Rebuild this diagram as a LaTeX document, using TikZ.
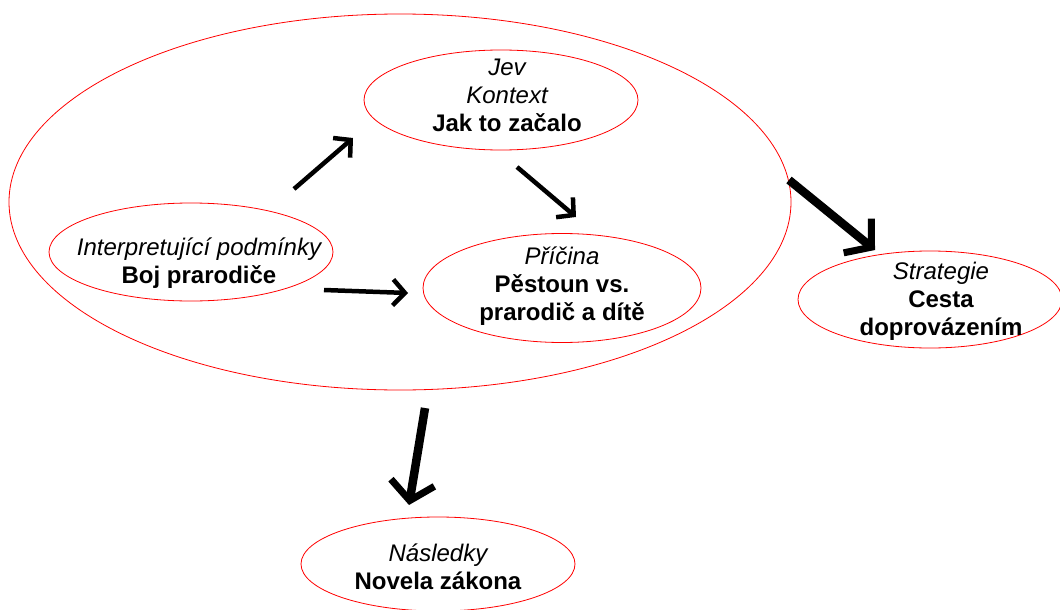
\documentclass[tikz,border=0pt]{standalone}
\usepackage{fontspec}
\setmainfont{Liberation Sans}
\usetikzlibrary{shapes.geometric,arrows.meta}
\begin{document}
\begin{tikzpicture}[x=1pt,y=-1pt,
  oval/.style={draw=red, line width=0.8pt, ellipse, inner sep=0pt},
  lbl/.style={align=center, font=\fontsize{24}{28}\selectfont, inner sep=0pt},
  thinarrow/.style={line width=4.5pt, -{Straight Barb[length=12pt,width=26pt,line width=4.5pt]}},
  thickarrow/.style={line width=8.5pt, -{Straight Barb[length=18pt,width=44pt,line width=7pt]}}]
\useasboundingbox (0,0) rectangle (1060,610);
\fill[white] (0,0) rectangle (1060,610);
% ellipses
\node[oval, minimum width=782pt, minimum height=376pt] (ctx) at (400,202) {};
\node[oval, minimum width=274pt, minimum height=100pt] (jev) at (501,100) {};
\node[oval, minimum width=284pt, minimum height=98pt] (interp) at (191,252) {};
\node[oval, minimum width=278pt, minimum height=109pt] (pric) at (562,288) {};
\node[oval, minimum width=264pt, minimum height=97pt] (strat) at (930,299.5) {};
\node[oval, minimum width=274pt, minimum height=94pt] (nasl) at (438,564) {};
% texts
\node[lbl] (jevT) at ([xshift=6pt,yshift=5pt]jev.center) {{\itshape Jev}\\{\itshape Kontext}\\{\bfseries Jak to začalo}};
\node[lbl] (interpT) at ([xshift=8pt,yshift=-11.5pt]interp.center) {{\itshape Interpretující podmínky}\\{\bfseries Boj prarodiče}};
\node[lbl] (pricT) at ([yshift=2pt]pric.center) {{\itshape Příčina}\\{\bfseries Pěstoun vs.}\\{\bfseries prarodič a dítě}};
\node[lbl] (stratT) at ([xshift=11pt,yshift=-1.5pt]strat.center) {{\itshape Strategie}\\{\bfseries Cesta}\\{\bfseries doprovázením}};
\node[lbl] (naslT) at ([yshift=-2.5pt]nasl.center) {{\itshape Následky}\\{\bfseries Novela zákona}};
% arrow ends
\coordinate (a1s) at (294,189); \coordinate (a1e) at (353,138);
\coordinate (a2s) at (517,167); \coordinate (a2e) at (576,217);
\coordinate (a3s) at (324,290); \coordinate (a3e) at (408,293);
\coordinate (a4s) at (789,180); \coordinate (a4e) at (875,250);
\coordinate (a5s) at (425,408); \coordinate (a5e) at (409,505);
\draw[thinarrow] (a1s) -- (a1e);
\draw[thinarrow] (a2s) -- (a2e);
\draw[thinarrow] (a3s) -- (a3e);
\draw[thickarrow] (a4s) -- (a4e);
\draw[thickarrow] (a5s) -- (a5e);
\end{tikzpicture}
\end{document}
